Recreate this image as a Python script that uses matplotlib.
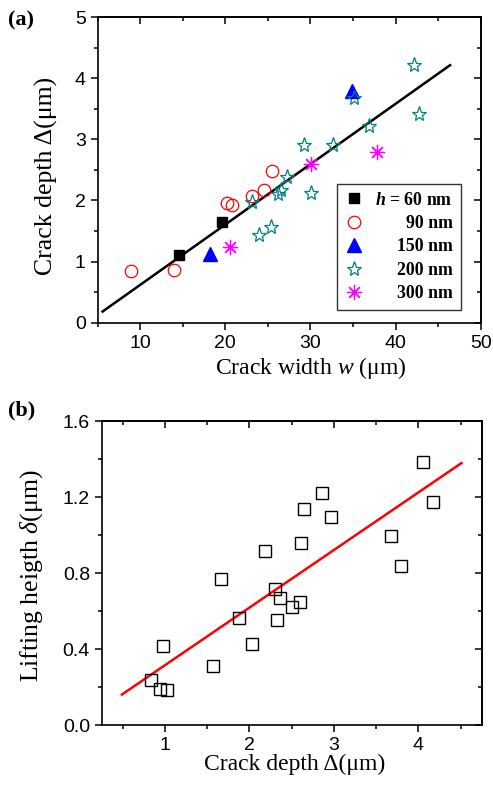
import matplotlib
matplotlib.use("Agg")
import matplotlib.pyplot as plt
import numpy as np
from matplotlib.ticker import MultipleLocator, FormatStrFormatter

plt.rcParams['mathtext.fontset'] = 'custom'
plt.rcParams['mathtext.rm'] = 'Liberation Serif'
plt.rcParams['mathtext.it'] = 'Liberation Serif:italic'
plt.rcParams['mathtext.bf'] = 'Liberation Serif:bold'
plt.rcParams['mathtext.bfit'] = 'Liberation Serif:italic:bold'

# ---------------- Panel (a) data ----------------
w60 = [14.6, 19.6]
d60 = [1.11, 1.64]
w90 = [8.9, 14.0, 20.2, 20.8, 23.1, 24.5, 25.5]
d90 = [0.85, 0.87, 1.96, 1.92, 2.07, 2.18, 2.49]
w150 = [18.2, 34.9]
d150 = [1.13, 3.80]
w200 = [42.2, 35.1, 42.8, 36.9, 29.25, 32.7, 27.2, 26.5, 26.2, 23.1, 30.1, 24.0, 25.4]
d200 = [4.22, 3.67, 3.41, 3.22, 2.91, 2.91, 2.38, 2.17, 2.10, 1.97, 2.13, 1.44, 1.57]
w300 = [20.6, 30.1, 37.8]
d300 = [1.24, 2.60, 2.80]
fit_a_x = [5.6, 46.4]
fit_a_slope = 0.0988
fit_a_icpt = -0.37
legend_labels = [r"$\mathbfit{h}$ = 60 nm", "90 nm", "150 nm", "200 nm", "300 nm"]

# ---------------- Panel (b) data ----------------
depth_b = [4.06, 4.17, 2.86, 2.64, 2.97, 3.67, 3.79, 2.61, 2.18, 1.66, 2.30, 2.36,
           2.50, 2.60, 2.33, 1.88, 2.03, 1.57, 0.97, 0.83, 0.94, 1.02]
lift_b = [1.386, 1.174, 1.223, 1.135, 1.093, 0.995, 0.839, 0.956, 0.916, 0.770, 0.714, 0.668,
          0.621, 0.647, 0.554, 0.563, 0.425, 0.311, 0.416, 0.239, 0.189, 0.184]
fit_b_x = [0.49, 4.51]
fit_b_slope = 0.303
fit_b_icpt = 0.012

W, H = 493, 789
fig = plt.figure(figsize=(W / 100, H / 100), dpi=100)

serif = 'Liberation Serif'
sans = 'Liberation Sans'


def style_axes(ax):
    for s in ax.spines.values():
        s.set_linewidth(1.2)
    ax.tick_params(which='both', direction='out', width=1.1, top=False, right=False,
                   labelsize=14, pad=3.5)
    ax.tick_params(which='major', length=5)
    ax.tick_params(which='minor', length=3)
    ax2x = ax.secondary_xaxis('top')
    ax2x.xaxis.set_major_locator(ax.xaxis.get_major_locator())
    ax2x.xaxis.set_minor_locator(ax.xaxis.get_minor_locator())
    ax2x.tick_params(which='both', direction='in', width=1.1, labeltop=False)
    ax2x.tick_params(which='major', length=5)
    ax2x.tick_params(which='minor', length=3)
    ax2x.spines['top'].set_linewidth(1.2)
    ax2y = ax.secondary_yaxis('right')
    ax2y.yaxis.set_major_locator(ax.yaxis.get_major_locator())
    ax2y.yaxis.set_minor_locator(ax.yaxis.get_minor_locator())
    ax2y.tick_params(which='both', direction='in', width=1.1, labelright=False)
    ax2y.tick_params(which='major', length=5)
    ax2y.tick_params(which='minor', length=3)
    ax2y.spines['right'].set_linewidth(1.2)
    for lab in ax.get_xticklabels() + ax.get_yticklabels():
        lab.set_fontfamily(sans)


# ---------------- Panel (a) ----------------
axa = fig.add_axes([97.5 / W, 1 - 322.7 / H, 383.2 / W, 305.5 / H])
axa.set_xlim(5, 50)
axa.set_ylim(0, 5)
axa.xaxis.set_major_locator(MultipleLocator(10))
axa.xaxis.set_minor_locator(MultipleLocator(5))
axa.yaxis.set_major_locator(MultipleLocator(1))
axa.yaxis.set_minor_locator(MultipleLocator(0.5))

xa = np.array(fit_a_x)
axa.plot(xa, fit_a_slope * xa + fit_a_icpt, color='black', lw=1.8, zorder=1)
h1, = axa.plot(w60, d60, 's', color='black', ms=7.5, ls='none', zorder=3)
h2, = axa.plot(w90, d90, 'o', mfc='none', mec='#ff0000', mew=0.9, ms=9, ls='none', zorder=3)
h3, = axa.plot(w150, d150, '^', color='#0000ff', ms=10.5, ls='none', zorder=3)
h4, = axa.plot(w200, d200, '*', mfc='none', mec='#008080', mew=0.9, ms=11, ls='none', zorder=3)
h5, = axa.plot(w300, d300, marker=(8, 2, 0), color='#ff00ff', mew=0.9, ms=11, ls='none', zorder=3)

style_axes(axa)
axa.set_xlabel(r"Crack width $\mathit{w}$ (μm)", fontfamily=serif, fontsize=17)
axa.set_ylabel("Crack depth Δ(μm)", fontfamily=serif, fontsize=18.5)
axa.xaxis.set_label_coords(0.556, -0.106)
axa.yaxis.set_label_coords(-0.103, 0.48)

leg = axa.legend([h1, h2, h3, h4, h5], legend_labels, loc='lower right',
                 bbox_to_anchor=(0.948, 0.041), frameon=True, fancybox=False,
                 prop={'family': serif, 'weight': 'bold', 'size': 12.8},
                 labelspacing=0.36, handlelength=1.0, handletextpad=0.7,
                 borderpad=0.45, borderaxespad=0.0)
leg.get_frame().set_edgecolor('black')
leg.get_frame().set_linewidth(1.0)

# ---------------- Panel (b) ----------------
axb = fig.add_axes([101.7 / W, 1 - 725 / H, 380 / W, 304 / H])
axb.set_xlim(0.25, 4.75)
axb.set_ylim(0, 1.6)
axb.xaxis.set_major_locator(MultipleLocator(1))
axb.xaxis.set_minor_locator(MultipleLocator(0.5))
axb.yaxis.set_major_locator(MultipleLocator(0.4))
axb.yaxis.set_minor_locator(MultipleLocator(0.2))
axb.yaxis.set_major_formatter(FormatStrFormatter('%.1f'))

xb = np.array(fit_b_x)
axb.plot(xb, fit_b_slope * xb + fit_b_icpt, color='#ff0000', lw=1.8, zorder=1)
axb.plot(depth_b, lift_b, 's', mfc='none', mec='black', mew=1.0, ms=9, ls='none', zorder=3)

style_axes(axb)
axb.set_xlabel("Crack depth Δ(μm)", fontfamily=serif, fontsize=17)
axb.set_ylabel(r"Lifting heigth $\delta$(μm)", fontfamily=serif, fontsize=18.5)
axb.xaxis.set_label_coords(0.509, -0.095)
axb.yaxis.set_label_coords(-0.149, 0.49)

fig.text(8 / W, 1 - 20 / H, "(a)", fontfamily=serif, fontweight='bold', fontsize=16,
         va='center', ha='left')
fig.text(8 / W, 1 - 410 / H, "(b)", fontfamily=serif, fontweight='bold', fontsize=16,
         va='center', ha='left')

# right-align legend texts (shift each text right by the width difference)
fig.canvas.draw()
renderer = fig.canvas.get_renderer()
texts = leg.get_texts()
widths = [t.get_window_extent(renderer).width for t in texts]
maxw = max(widths)
for t, wdt in zip(texts, widths):
    t.set_position((maxw - wdt, 0))

fig.savefig("out.png", dpi=100)
